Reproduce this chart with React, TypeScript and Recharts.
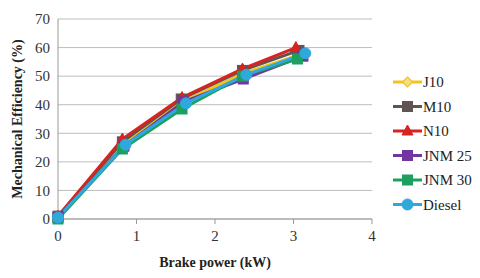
import React from "react";
import { LineChart, Line, XAxis, YAxis, CartesianGrid } from "recharts";

const seriesNames = ["J10", "M10", "N10", "JNM 25", "JNM 30", "Diesel"];
const xTicks = [0, 1, 2, 3, 4];
const yTicks = [0, 10, 20, 30, 40, 50, 60, 70];

const j10X = [0, 0.83, 1.58, 2.36, 3.08];
const j10Y = [0.5, 26.5, 41, 51, 57.5];
const m10X = [0, 0.82, 1.57, 2.35, 3.07];
const m10Y = [1, 27, 42, 52, 59];
const n10X = [0, 0.82, 1.58, 2.35, 3.03];
const n10Y = [1, 28, 42.5, 52.5, 60];
const jnm25X = [0, 0.84, 1.6, 2.36, 3.12];
const jnm25Y = [0.5, 25.5, 41, 49, 57];
const jnm30X = [0, 0.82, 1.58, 2.35, 3.05];
const jnm30Y = [0, 24.5, 38.5, 50, 56];
const dieselX = [0, 0.86, 1.63, 2.4, 3.15];
const dieselY = [0.5, 26, 40.5, 50.5, 58];

const toData = (xs: number[], ys: number[]) => xs.map((x, i) => ({ x, y: ys[i] }));

type Shape = "diamond" | "square" | "triangle" | "circle";
const styles: { color: string; fill: string; shape: Shape }[] = [
  { color: "#f2c41c", fill: "#f6dc8a", shape: "diamond" },
  { color: "#5e5454", fill: "#5e5454", shape: "square" },
  { color: "#d8231f", fill: "#d8231f", shape: "triangle" },
  { color: "#7236a0", fill: "#7236a0", shape: "square" },
  { color: "#1d9f60", fill: "#1d9f60", shape: "square" },
  { color: "#2fa8dc", fill: "#2fa8dc", shape: "circle" },
];

const series = [
  toData(j10X, j10Y),
  toData(m10X, m10Y),
  toData(n10X, n10Y),
  toData(jnm25X, jnm25Y),
  toData(jnm30X, jnm30Y),
  toData(dieselX, dieselY),
];

function Marker({ cx, cy, shape, color, fill }: { cx: number; cy: number; shape: Shape; color: string; fill: string }) {
  if (shape === "diamond")
    return <polygon points={`${cx},${cy - 5} ${cx + 5},${cy} ${cx},${cy + 5} ${cx - 5},${cy}`} fill={fill} stroke={color} strokeWidth={1.2} />;
  if (shape === "square")
    return <rect x={cx - 5} y={cy - 5} width={10} height={10} fill={fill} stroke={color} strokeWidth={1} />;
  if (shape === "triangle")
    return <polygon points={`${cx},${cy - 6} ${cx + 5.5},${cy + 4} ${cx - 5.5},${cy + 4}`} fill={fill} stroke={color} strokeWidth={1} />;
  return <circle cx={cx} cy={cy} r={5.5} fill={fill} stroke={color} strokeWidth={1} />;
}

const font = "'Liberation Serif', 'Times New Roman', serif";

function LegendBox() {
  return (
    <svg width={87} height={150} style={{ position: "absolute", left: 393, top: 74 }}>
      {seriesNames.map((n, i) => {
        const s = styles[i];
        const y = 8 + i * 24.5;
        return (
          <g key={n}>
            <line x1={0} x2={29} y1={y} y2={y} stroke={s.color} strokeWidth={3} />
            <Marker cx={14.5} cy={y} shape={s.shape} color={s.color} fill={s.fill} />
            <text x={30} y={y + 5} style={{ fontFamily: font, fontSize: 15 }} fill="#222">{n}</text>
          </g>
        );
      })}
    </svg>
  );
}

const tickStyle = { fontFamily: font, fontSize: 15, fill: "#333" };

export default function App() {
  return (
    <div style={{ position: "absolute", left: 0, top: 0, width: 480, height: 278, background: "#fff", fontFamily: font }}>
      <LineChart width={480} height={278} margin={{ top: 19, right: 108, bottom: 0, left: 0 }} style={{ fontFamily: font }}>
        <CartesianGrid horizontal vertical={false} stroke="#bdbdbd" />
        <XAxis
          type="number"
          dataKey="x"
          domain={[0, 4]}
          ticks={xTicks}
          interval={0}
          allowDuplicatedCategory={false}
          stroke="#999"
          tickLine={{ stroke: "#999" }}
          tickSize={5}
          tickMargin={6}
          tick={{ ...tickStyle, style: { fontFamily: font } }}
          height={59}
          label={{
            content: ({ viewBox }: any) => (
              <text x={viewBox.x + viewBox.width / 2} y={viewBox.y + 48} textAnchor="middle" style={{ fontFamily: font }} fontWeight="bold" fontSize={14} fill="#222">
                Brake power (kW)
              </text>
            ),
          }}
        />
        <YAxis
          type="number"
          dataKey="y"
          domain={[0, 70]}
          ticks={yTicks}
          interval={0}
          width={58}
          stroke="#999"
          tickLine={false}
          tick={{ ...tickStyle, style: { fontFamily: font } }}
          tickMargin={2}
          label={{
            content: ({ viewBox }: any) => {
              const cx = 17;
              const cy = viewBox.y + viewBox.height / 2;
              return (
                <text x={cx} y={cy} transform={`rotate(-90 ${cx} ${cy})`} textAnchor="middle" dominantBaseline="central" style={{ fontFamily: font }} fontWeight="bold" fontSize={14} fill="#222">
                  Mechanical Efficiency (%)
                </text>
              );
            },
          }}
        />
        {series.map((d, i) => (
          <Line
            key={seriesNames[i]}
            data={d}
            dataKey="y"
            name={seriesNames[i]}
            type="linear"
            stroke={styles[i].color}
            strokeWidth={3}
            isAnimationActive={false}
            dot={(p: any) => <Marker key={`${i}-${p.index}`} cx={p.cx} cy={p.cy} shape={styles[i].shape} color={styles[i].color} fill={styles[i].fill} />}
            activeDot={false}
          />
        ))}
      </LineChart>
      <LegendBox />
    </div>
  );
}
